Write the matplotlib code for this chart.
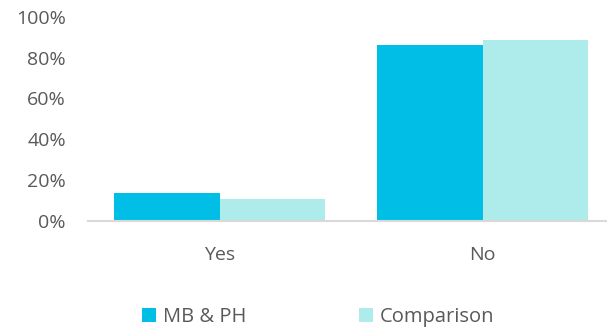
import numpy as np
import matplotlib.pyplot as plt
from matplotlib.ticker import PercentFormatter

categories = ["Yes", "No"]
mb_ph = [0.135, 0.86]
comparison = [0.107, 0.888]
series_names = ["MB & PH", "Comparison"]

plt.rcParams['font.family'] = ['Open Sans', 'DejaVu Sans']

fig = plt.figure(figsize=(6.07, 3.31), dpi=100)
ax = fig.add_axes([88/607, 1 - 221/331, 1 - 88/607, (221 - 16.7)/331])

x = np.arange(len(categories))
w = 0.4
ax.bar(x - w/2, mb_ph, w, color="#00BEE6", label=series_names[0])
ax.bar(x + w/2, comparison, w, color="#AEEBEB", label=series_names[1])

ax.set_xlim(-0.5, 1.473)
ax.set_ylim(0, 1)
ax.set_yticks(np.arange(0, 1.01, 0.2))
ax.yaxis.set_major_formatter(PercentFormatter(1.0, decimals=0))
ax.set_xticks(x)
ax.set_xticklabels(categories)

for s in ["top", "right", "left"]:
    ax.spines[s].set_visible(False)
ax.spines["bottom"].set_color("#D9D9D9")
ax.spines["bottom"].set_linewidth(1.5)
ax.tick_params(axis="both", length=0, labelsize=14, colors="#595959")
ax.tick_params(axis="y", pad=16)
ax.tick_params(axis="x", pad=18)

leg = fig.legend(loc="center", bbox_to_anchor=(318/607, 1 - 317/331), ncol=2,
                 frameon=False, fontsize=14.5, handlelength=0.7, handleheight=0.7,
                 handletextpad=0.35, columnspacing=5.6)
for t in leg.get_texts():
    t.set_color("#595959")

fig.savefig("out.png", dpi=100)
